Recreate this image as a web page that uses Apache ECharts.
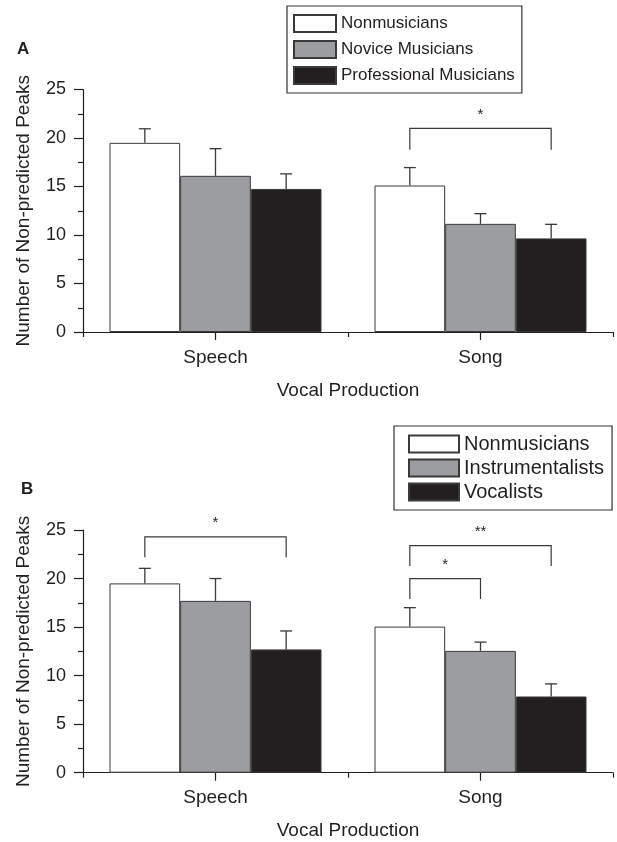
<!DOCTYPE html>
<html>
<head>
<meta charset="utf-8">
<script src="https://cdn.jsdelivr.net/npm/echarts@6/dist/echarts.min.js"></script>
<style>
html,body{margin:0;padding:0;background:#fff;}
#chart{width:617px;height:842px;}
</style>
</head>
<body>
<div id="chart"></div>
<script>
// ---- data ----
const categories = ['Speech', 'Song'];
const yTicks = [0, 5, 10, 15, 20, 25];

// Panel A
const groupsA = ['Nonmusicians', 'Novice Musicians', 'Professional Musicians'];
const aNonmusicians = [19.5, 15.1];
const aNonmusiciansSE = [1.45, 1.85];
const aNovice = [16.1, 11.15];
const aNoviceSE = [2.8, 1.05];
const aProfessional = [14.75, 9.65];
const aProfessionalSE = [1.55, 1.45];
// brackets: [category, fromGroup, toGroup, barValue, legValue, label]
const bracketsA = [[1, 0, 2, 21.0, 18.8, '*']];

// Panel B
const groupsB = ['Nonmusicians', 'Instrumentalists', 'Vocalists'];
const bNonmusicians = [19.5, 15.05];
const bNonmusiciansSE = [1.55, 1.95];
const bInstrumentalists = [17.7, 12.55];
const bInstrumentalistsSE = [2.3, 0.9];
const bVocalists = [12.7, 7.85];
const bVocalistsSE = [1.9, 1.3];
const bracketsB = [[0, 0, 2, 24.3, 22.2, '*'], [1, 0, 1, 20.0, 17.9, '*'], [1, 0, 2, 23.4, 21.3, '**']];

// ---- styles ----
const fills = ['#ffffff', '#9c9da1', '#231f20'];
const ink = '#231f20';
const lineCol = '#3a3a3a';
const FONT = 'Liberation Sans, Arial, Helvetica, sans-serif';

const chart = echarts.init(document.getElementById('chart'), null, {renderer: 'canvas'});

function barWidthOf(api) { return api.size([1, 0])[0] * 0.8 / 3; }

function errRender(params, api) {
  const cat = api.value(0), g = api.value(1), m = api.value(2), se = api.value(3);
  const bw = barWidthOf(api);
  const cx = api.coord([cat, 0])[0] + (g - 1) * bw;
  const yb = api.coord([cat, m])[1];
  const yt = api.coord([cat, m + se])[1];
  const st = {stroke: lineCol, lineWidth: 1.3};
  return {type: 'group', children: [
    {type: 'line', shape: {x1: cx, y1: yb, x2: cx, y2: yt}, style: st},
    {type: 'line', shape: {x1: cx - 6, y1: yt, x2: cx + 6, y2: yt}, style: st}
  ]};
}

function makeBracketRender(list) {
  return function (params, api) {
    const b = list[params.dataIndex];
    const bw = barWidthOf(api);
    const c = api.coord([b[0], 0])[0];
    const x1 = c + (b[1] - 1) * bw, x2 = c + (b[2] - 1) * bw;
    const yTop = api.coord([b[0], b[3]])[1];
    const yLeg = api.coord([b[0], b[4]])[1];
    const st = {stroke: lineCol, lineWidth: 1.2, fill: null};
    return {type: 'group', children: [
      {type: 'polyline', shape: {points: [[x1, yLeg], [x1, yTop], [x2, yTop], [x2, yLeg]]}, style: st},
      {type: 'text', x: (x1 + x2) / 2, y: yTop - 6,
        style: {text: b[5], fontSize: 15, fontFamily: FONT, fill: ink, align: 'center', verticalAlign: 'bottom'}}
    ]};
  };
}

function panel(idx, groups, vals, ses, brackets) {
  const series = [];
  groups.forEach((name, g) => {
    series.push({
      name: name, type: 'bar', xAxisIndex: idx * 2, yAxisIndex: idx,
      data: vals[g], barGap: '0%', barCategoryGap: '20%',
      itemStyle: {color: fills[g], borderColor: lineCol, borderWidth: 1},
      emphasis: {disabled: true}, animation: false
    });
  });
  const errData = [];
  groups.forEach((name, g) => {
    vals[g].forEach((v, c) => errData.push([c, g, v, ses[g][c]]));
  });
  series.push({
    type: 'custom', xAxisIndex: idx * 2, yAxisIndex: idx, renderItem: errRender,
    data: errData, encode: {x: 0, y: 2}, z: 5, animation: false, silent: true
  });
  series.push({
    type: 'custom', xAxisIndex: idx * 2, yAxisIndex: idx, renderItem: makeBracketRender(brackets),
    data: brackets.map(b => [b[0], b[3]]), encode: {x: 0, y: 1}, z: 5, clip: false, animation: false, silent: true
  });
  return series;
}

function xAxes(gridIndex) {
  return [
    {
      type: 'category', gridIndex: gridIndex, data: categories, position: 'bottom',
      name: 'Vocal Production', nameLocation: 'middle', nameGap: 49,
      nameTextStyle: {fontSize: 19, fontFamily: FONT, color: ink},
      axisLine: {lineStyle: {color: ink, width: 1.2}},
      axisTick: {show: true, length: 5, lineStyle: {color: ink, width: 1.2}},
      axisLabel: {fontSize: 19, fontFamily: FONT, color: ink, margin: 16},
      splitLine: {show: false}
    },
    {
      type: 'category', gridIndex: gridIndex, data: categories, position: 'bottom',
      axisLine: {show: false},
      axisTick: {show: true, alignWithLabel: true, length: 8, lineStyle: {color: ink, width: 1.2}},
      axisLabel: {show: false}, splitLine: {show: false}
    }
  ];
}

function yAxis(gridIndex) {
  return {
    type: 'value', gridIndex: gridIndex, min: yTicks[0], max: yTicks[yTicks.length - 1], interval: 5,
    name: 'Number of Non-predicted Peaks', nameLocation: 'middle', nameGap: 50,
    nameTextStyle: {fontSize: 19, fontFamily: FONT, color: ink},
    axisLine: {show: true, lineStyle: {color: ink, width: 1.2}},
    axisTick: {show: true, length: 9, lineStyle: {color: ink, width: 1.2}},
    minorTick: {show: true, splitNumber: 2, length: 5, lineStyle: {color: ink, width: 1.2}},
    axisLabel: {fontSize: 18, fontFamily: FONT, color: ink, margin: 17},
    splitLine: {show: false}
  };
}

const legendCommon = {
  orient: 'vertical', icon: 'rect', selectedMode: false,
  borderColor: '#333', borderWidth: 1.2, backgroundColor: '#fff'
};

const option = {
  backgroundColor: '#fff',
  animation: false,
  title: [
    {text: 'A', left: 12, top: 36, textStyle: {fontSize: 17, fontWeight: 'bold', fontFamily: FONT, color: ink}},
    {text: 'B', left: 16, top: 476, textStyle: {fontSize: 17, fontWeight: 'bold', fontFamily: FONT, color: ink}}
  ],
  grid: [
    {left: 83, right: 4, top: 89.5, height: 242.5},
    {left: 83, right: 4, top: 530, height: 242.7}
  ],
  legend: [
    Object.assign({}, legendCommon, {
      data: groupsA, left: 287, top: 6, padding: [8, 7, 8, 6],
      itemWidth: 42, itemHeight: 17, itemGap: 7,
      textStyle: {fontSize: 17, fontFamily: FONT, color: ink}
    }),
    Object.assign({}, legendCommon, {
      data: groupsB, left: 394, top: 426, padding: [8, 8, 8, 14],
      itemWidth: 50, itemHeight: 17, itemGap: 4,
      textStyle: {fontSize: 20, fontFamily: FONT, color: ink}
    })
  ],
  xAxis: xAxes(0).concat(xAxes(1)),
  yAxis: [yAxis(0), yAxis(1)],
  series: panel(0, groupsA, [aNonmusicians, aNovice, aProfessional], [aNonmusiciansSE, aNoviceSE, aProfessionalSE], bracketsA)
    .concat(panel(1, groupsB, [bNonmusicians, bInstrumentalists, bVocalists], [bNonmusiciansSE, bInstrumentalistsSE, bVocalistsSE], bracketsB))
};

chart.setOption(option);
</script>
</body>
</html>
